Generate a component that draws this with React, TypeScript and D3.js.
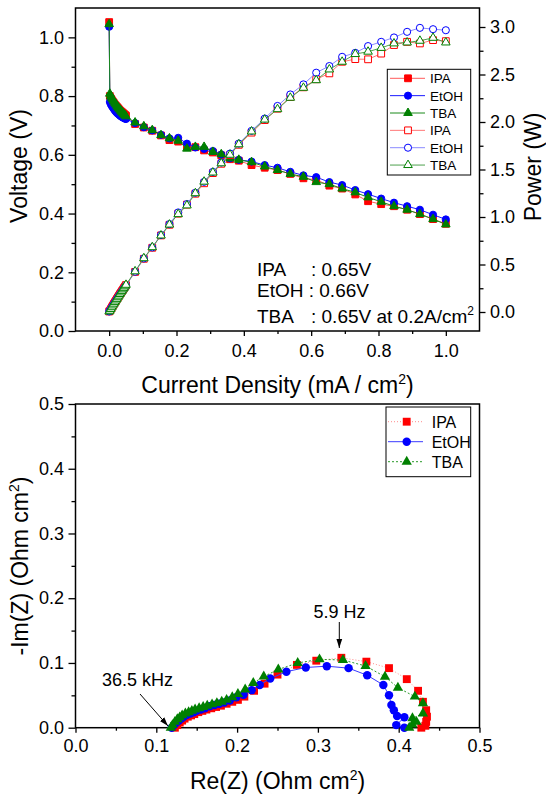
import React, { useEffect, useRef } from 'react';
import * as d3 from 'd3';

// ---- polarization / power data (top panel) ----
const current = [
  0, 0.002, 0.005, 0.008, 0.011, 0.014, 0.017, 0.02, 0.023, 0.026, 0.029, 0.032, 0.035, 0.038, 0.041, 0.044, 0.047, 0.05,
  0.077, 0.103, 0.128, 0.154, 0.179, 0.205, 0.231, 0.256, 0.282, 0.308, 0.333, 0.359, 0.385,
  0.423, 0.462, 0.5, 0.538, 0.577, 0.615, 0.654, 0.692, 0.731, 0.769, 0.808, 0.846, 0.885, 0.923, 0.962, 1.0,
];

const ipaVoltage = [
  1.052, 0.8, 0.792, 0.786, 0.781, 0.776, 0.771, 0.767, 0.763, 0.759, 0.755, 0.751, 0.748, 0.745, 0.742, 0.739, 0.736, 0.733,
  0.705, 0.693, 0.682, 0.666, 0.65, 0.645, 0.628, 0.626, 0.615, 0.608, 0.598, 0.585, 0.58,
  0.565, 0.556, 0.548, 0.535, 0.52, 0.515, 0.495, 0.485, 0.465, 0.442, 0.432, 0.425, 0.413, 0.398, 0.381, 0.365,
];
const etohVoltage = [
  1.036, 0.78, 0.772, 0.766, 0.761, 0.756, 0.751, 0.747, 0.743, 0.74, 0.737, 0.734, 0.731, 0.729, 0.727, 0.725, 0.723, 0.722,
  0.708, 0.694, 0.683, 0.668, 0.656, 0.658, 0.638, 0.625, 0.62, 0.613, 0.601, 0.588, 0.583,
  0.577, 0.565, 0.556, 0.542, 0.53, 0.524, 0.507, 0.497, 0.48, 0.466, 0.451, 0.437, 0.425, 0.413, 0.396, 0.38,
];
const tbaVoltage = [
  1.045, 0.808, 0.8, 0.794, 0.788, 0.782, 0.777, 0.772, 0.767, 0.762, 0.758, 0.754, 0.75, 0.746, 0.742, 0.738, 0.735, 0.731,
  0.71, 0.697, 0.684, 0.667, 0.656, 0.648, 0.621, 0.627, 0.627, 0.61, 0.602, 0.588, 0.583,
  0.575, 0.56, 0.548, 0.535, 0.525, 0.507, 0.5, 0.485, 0.472, 0.455, 0.44, 0.425, 0.413, 0.398, 0.381, 0.363,
];

const ipaPower = [
  0.005, 0.013, 0.031, 0.05, 0.068, 0.086, 0.103, 0.12, 0.137, 0.154, 0.171, 0.188, 0.204, 0.22, 0.236, 0.252, 0.268, 0.284,
  0.422, 0.56, 0.676, 0.806, 0.918, 1.035, 1.13, 1.245, 1.355, 1.462, 1.56, 1.652, 1.76,
  1.888, 2.02, 2.14, 2.262, 2.365, 2.45, 2.512, 2.634, 2.662, 2.66, 2.72, 2.81, 2.844, 2.827, 2.862, 2.851,
];
const etohPower = [
  0.005, 0.012, 0.03, 0.048, 0.066, 0.083, 0.1, 0.117, 0.134, 0.151, 0.167, 0.183, 0.199, 0.215, 0.231, 0.247, 0.262, 0.278,
  0.424, 0.564, 0.68, 0.81, 0.925, 1.048, 1.136, 1.255, 1.37, 1.475, 1.574, 1.668, 1.773,
  1.907, 2.036, 2.169, 2.29, 2.396, 2.519, 2.589, 2.686, 2.728, 2.799, 2.844, 2.89, 2.949, 2.991, 2.977, 2.966,
];
const tbaPower = [
  0.005, 0.013, 0.032, 0.05, 0.069, 0.087, 0.104, 0.121, 0.138, 0.155, 0.172, 0.189, 0.206, 0.222, 0.238, 0.254, 0.27, 0.286,
  0.428, 0.566, 0.682, 0.805, 0.92, 1.03, 1.122, 1.25, 1.372, 1.468, 1.565, 1.655, 1.765,
  1.9, 2.025, 2.135, 2.255, 2.36, 2.44, 2.553, 2.634, 2.715, 2.74, 2.78, 2.827, 2.837, 2.855, 2.886, 2.837,
];

// ---- impedance data (bottom panel) ----
const ipaRe = [0.123, 0.126, 0.129, 0.132, 0.135, 0.139, 0.143, 0.147, 0.152, 0.157, 0.162, 0.168, 0.174, 0.18, 0.187, 0.194, 0.201, 0.209, 0.221, 0.234, 0.25, 0.274, 0.298, 0.329, 0.36, 0.388, 0.41, 0.424, 0.43, 0.434, 0.435, 0.434, 0.433, 0.428];
const ipaIm = [0, 0.004, 0.008, 0.011, 0.014, 0.017, 0.019, 0.021, 0.024, 0.026, 0.028, 0.03, 0.032, 0.034, 0.037, 0.04, 0.043, 0.048, 0.057, 0.068, 0.082, 0.097, 0.1035, 0.108, 0.102, 0.092, 0.075, 0.057, 0.04, 0.027, 0.017, 0.009, 0.003, 0];
const etohRe = [0.119, 0.122, 0.125, 0.128, 0.131, 0.134, 0.138, 0.142, 0.146, 0.15, 0.155, 0.16, 0.166, 0.172, 0.178, 0.184, 0.191, 0.199, 0.208, 0.218, 0.228, 0.241, 0.261, 0.285, 0.311, 0.338, 0.361, 0.381, 0.388, 0.391, 0.394, 0.398, 0.407, 0.397, 0.407];
const etohIm = [0, 0.004, 0.008, 0.011, 0.014, 0.017, 0.02, 0.022, 0.024, 0.026, 0.028, 0.03, 0.033, 0.035, 0.037, 0.039, 0.042, 0.047, 0.051, 0.058, 0.066, 0.076, 0.0865, 0.093, 0.095, 0.092, 0.081, 0.066, 0.05, 0.035, 0.027, 0.018, 0.016, 0.004, 0];
const tbaRe = [0.118, 0.12, 0.123, 0.126, 0.129, 0.132, 0.136, 0.14, 0.144, 0.148, 0.153, 0.158, 0.163, 0.169, 0.175, 0.181, 0.187, 0.194, 0.201, 0.21, 0.22, 0.233, 0.251, 0.275, 0.302, 0.331, 0.359, 0.383, 0.399, 0.42, 0.43, 0.43, 0.417, 0.422, 0.417, 0.413];
const tbaIm = [0, 0.004, 0.009, 0.013, 0.016, 0.019, 0.022, 0.024, 0.026, 0.028, 0.03, 0.032, 0.034, 0.036, 0.038, 0.04, 0.043, 0.047, 0.052, 0.059, 0.069, 0.079, 0.09, 0.1, 0.1056, 0.1046, 0.0953, 0.0788, 0.0618, 0.048, 0.0377, 0.022, 0.0145, 0.009, 0.005, 0];

// ---- ticks ----
const voltTicks = [0, 0.2, 0.4, 0.6, 0.8, 1.0];
const voltMinor = [0.1, 0.3, 0.5, 0.7, 0.9];
const curTicks = [0, 0.2, 0.4, 0.6, 0.8, 1.0];
const curMinor = [0.1, 0.3, 0.5, 0.7, 0.9];
const powTicks = [0, 0.5, 1.0, 1.5, 2.0, 2.5, 3.0];
const powMinor = [0.25, 0.75, 1.25, 1.75, 2.25, 2.75];
const zTicks = [0, 0.1, 0.2, 0.3, 0.4, 0.5];
const zMinor = [0.05, 0.15, 0.25, 0.35, 0.45];

const font = '"Liberation Sans", Arial, sans-serif';

const App = () => {
  const svgRef = useRef<SVGSVGElement>(null);

  useEffect(() => {
    const svg = d3.select(svgRef.current);
    svg.selectAll('*').remove();

    svg.append('defs').append('marker')
      .attr('id', 'arrowHead').attr('viewBox', '0 0 10 10').attr('refX', 10).attr('refY', 5)
      .attr('markerWidth', 9).attr('markerHeight', 9).attr('markerUnits', 'userSpaceOnUse').attr('orient', 'auto')
      .append('path').attr('d', 'M0,1.8 L10,5 L0,8.2 Z').attr('fill', '#000');

    const fmt = d3.format('.1f');

    const styleAxis = (g: any) => {
      g.select('.domain').remove();
      g.selectAll('line').attr('stroke', '#000').attr('stroke-width', 1.3);
      g.selectAll('text').attr('font-size', 18).attr('font-family', font).attr('fill', '#000');
    };

    const addAxis = (gen: any, tx: number, ty: number) => {
      svg.append('g').attr('transform', `translate(${tx},${ty})`).call(gen).call(styleAxis);
    };

    const drawMarks = (pts: [number, number][], type: any, size: number, fill: string, stroke: string) => {
      const p = d3.symbol().type(type).size(size)();
      svg.append('g').selectAll('path').data(pts).join('path')
        .attr('d', p)
        .attr('transform', d => `translate(${d[0]},${d[1]})`)
        .attr('fill', fill).attr('stroke', stroke).attr('stroke-width', 1);
    };

    const drawLine = (pts: [number, number][], color: string, dash?: string) => {
      svg.append('path').datum(pts)
        .attr('d', d3.line())
        .attr('fill', 'none').attr('stroke', color).attr('stroke-width', 1)
        .attr('stroke-dasharray', dash || null);
    };

    // ================= top panel =================
    const x = d3.scaleLinear().domain([-0.1, 1.1]).range([75.5, 479.5]);
    const yV = d3.scaleLinear().domain([0, 1.1]).range([331, 8]);
    const yP = d3.scaleLinear().domain([-0.2, 3.2]).range([331, 8]);

    svg.append('rect').attr('x', 75.5).attr('y', 8).attr('width', 404).attr('height', 323)
      .attr('fill', 'none').attr('stroke', '#000').attr('stroke-width', 1.5);

    addAxis(d3.axisLeft(yV).tickValues(voltMinor).tickFormat(() => '').tickSize(4), 75.5, 0);
    addAxis(d3.axisLeft(yV).tickValues(voltTicks).tickFormat(fmt).tickSize(7).tickPadding(4.5), 75.5, 0);
    addAxis(d3.axisBottom(x).tickValues(curMinor).tickFormat(() => '').tickSize(3), 0, 331);
    addAxis(d3.axisBottom(x).tickValues(curTicks).tickFormat(fmt).tickSize(5).tickPadding(8), 0, 331);
    addAxis(d3.axisRight(yP).tickValues(powMinor).tickFormat(() => '').tickSize(4), 479.5, 0);
    addAxis(d3.axisRight(yP).tickValues(powTicks).tickFormat(fmt).tickSize(6).tickPadding(4.5), 479.5, 0);

    const topSeries = [
      { v: ipaVoltage, p: ipaPower, mark: '#ff0000', line: '#ff5a5a', openLine: '#ff7878', sym: d3.symbolSquare, size: 46 },
      { v: etohVoltage, p: etohPower, mark: '#0000ff', line: '#1a1aff', openLine: '#8a8aff', sym: d3.symbolCircle, size: 40 },
      { v: tbaVoltage, p: tbaPower, mark: '#008000', line: '#1a8a1a', openLine: '#4ea04e', sym: d3.symbolTriangle, size: 32 },
    ];

    topSeries.forEach(s => {
      const pts = current.map((c, i) => [x(c), yV(s.v[i])] as [number, number]);
      drawLine(pts, s.line);
      drawMarks(pts, s.sym, s.size, s.mark, s.mark);
    });
    topSeries.forEach(s => {
      const pts = current.map((c, i) => [x(c), yP(s.p[i])] as [number, number]);
      drawLine(pts, s.openLine);
      drawMarks(pts, s.sym, s.size, '#fff', s.mark);
    });

    // top legend
    const legTop = svg.append('g');
    legTop.append('rect').attr('x', 387.3).attr('y', 69.3).attr('width', 83.4).attr('height', 105.7)
      .attr('fill', '#fff').attr('stroke', '#000').attr('stroke-width', 1);
    const topNames = ['IPA', 'EtOH', 'TBA'];
    [0, 1].forEach(k => {
      topSeries.forEach((s, i) => {
        const row = k * 3 + i;
        const cy = 78.3 + row * 17.35;
        legTop.append('line').attr('x1', 390).attr('x2', 425).attr('y1', cy).attr('y2', cy)
          .attr('stroke', k === 0 ? s.line : s.openLine).attr('stroke-width', 1);
        legTop.append('path').attr('d', d3.symbol().type(s.sym).size(s.size)())
          .attr('transform', `translate(408,${cy})`)
          .attr('fill', k === 0 ? s.mark : '#fff').attr('stroke', s.mark);
        legTop.append('text').attr('x', 430).attr('y', cy + 5).attr('font-size', 13.5)
          .attr('font-family', font).text(topNames[i]);
      });
    });

    // top annotation
    const ann = svg.append('g').attr('font-family', font).attr('font-size', 19).attr('fill', '#000');
    ann.append('text').attr('x', 257).attr('y', 276).text('IPA');
    ann.append('text').attr('x', 311).attr('y', 276).text(': 0.65V');
    ann.append('text').attr('x', 257).attr('y', 297).text('EtOH : 0.66V');
    ann.append('text').attr('x', 257).attr('y', 323).text('TBA');
    const t3 = ann.append('text').attr('x', 311).attr('y', 323);
    t3.append('tspan').text(': 0.65V at 0.2A/cm');
    t3.append('tspan').attr('dy', -8).attr('font-size', 12).text('2');

    // top titles
    const titles = svg.append('g').attr('font-family', font).attr('font-size', 23).attr('fill', '#000');
    const ct = titles.append('text').attr('x', 277.5).attr('y', 393).attr('text-anchor', 'middle');
    ct.append('tspan').text('Current Density (mA / cm');
    ct.append('tspan').attr('dy', -9).attr('font-size', 14).text('2');
    ct.append('tspan').attr('dy', 9).text(')');
    titles.append('text').attr('transform', 'translate(27,166) rotate(-90)').attr('text-anchor', 'middle').text('Voltage (V)');
    titles.append('text').attr('transform', 'translate(541,167) rotate(-90)').attr('text-anchor', 'middle').text('Power (W)');

    // ================= bottom panel =================
    const xz = d3.scaleLinear().domain([0, 0.5]).range([75.5, 479.5]);
    const yz = d3.scaleLinear().domain([0, 0.5]).range([727.7, 404]);

    svg.append('rect').attr('x', 75.5).attr('y', 404).attr('width', 404).attr('height', 323.7)
      .attr('fill', 'none').attr('stroke', '#000').attr('stroke-width', 1.5);

    addAxis(d3.axisLeft(yz).tickValues(zMinor).tickFormat(() => '').tickSize(4), 75.5, 0);
    addAxis(d3.axisLeft(yz).tickValues(zTicks).tickFormat(fmt).tickSize(7).tickPadding(4.5), 75.5, 0);
    addAxis(d3.axisBottom(xz).tickValues(zMinor).tickFormat(() => '').tickSize(3), 0, 727.7);
    addAxis(d3.axisBottom(xz).tickValues(zTicks).tickFormat(fmt).tickSize(5).tickPadding(6.5), 0, 727.7);

    const botSeries = [
      { re: ipaRe, im: ipaIm, mark: '#ff0000', line: '#ff8c8c', dash: '1,2', sym: d3.symbolSquare, size: 62, name: 'IPA' },
      { re: etohRe, im: etohIm, mark: '#0000ff', line: '#3a3aff', dash: undefined, sym: d3.symbolCircle, size: 56, name: 'EtOH' },
      { re: tbaRe, im: tbaIm, mark: '#008000', line: '#2a9a2a', dash: '2,2', sym: d3.symbolTriangle, size: 46, name: 'TBA' },
    ];
    botSeries.forEach(s => {
      const pts = s.re.map((r, i) => [xz(r), yz(s.im[i])] as [number, number]);
      drawLine(pts, s.line, s.dash);
      drawMarks(pts, s.sym, s.size, s.mark, 'none');
    });

    // bottom legend
    const legBot = svg.append('g');
    legBot.append('rect').attr('x', 386).attr('y', 407).attr('width', 84.7).attr('height', 69.7)
      .attr('fill', '#fff').attr('stroke', '#000').attr('stroke-width', 1);
    botSeries.forEach((s, i) => {
      const cy = 421.7 + i * 20;
      legBot.append('line').attr('x1', 388).attr('x2', 423).attr('y1', cy).attr('y2', cy)
        .attr('stroke', s.line).attr('stroke-width', 1).attr('stroke-dasharray', s.dash || null);
      legBot.append('path').attr('d', d3.symbol().type(s.sym).size(s.size)())
        .attr('transform', `translate(406.7,${cy})`).attr('fill', s.mark);
      legBot.append('text').attr('x', 431.7).attr('y', cy + 6).attr('font-size', 16)
        .attr('font-family', font).text(s.name);
    });

    // frequency annotations
    const fz = svg.append('g').attr('font-family', font).attr('font-size', 18).attr('fill', '#000');
    fz.append('text').attr('x', 339.5).attr('y', 618).attr('text-anchor', 'middle').text('5.9 Hz');
    fz.append('text').attr('x', 137.5).attr('y', 686).attr('text-anchor', 'middle').text('36.5 kHz');
    svg.append('line').attr('x1', 339.3).attr('y1', 622).attr('x2', 339.3).attr('y2', 648)
      .attr('stroke', '#000').attr('stroke-width', 1).attr('marker-end', 'url(#arrowHead)');
    svg.append('line').attr('x1', 140).attr('y1', 694).attr('x2', 168).attr('y2', 726)
      .attr('stroke', '#000').attr('stroke-width', 1).attr('marker-end', 'url(#arrowHead)');

    const bt = svg.append('g').attr('font-family', font).attr('font-size', 23).attr('fill', '#000');
    const rt = bt.append('text').attr('x', 277.5).attr('y', 789).attr('text-anchor', 'middle');
    rt.append('tspan').text('Re(Z) (Ohm cm');
    rt.append('tspan').attr('dy', -9).attr('font-size', 14).text('2');
    rt.append('tspan').attr('dy', 9).text(')');
    const it = bt.append('text').attr('transform', 'translate(28,566) rotate(-90)').attr('text-anchor', 'middle');
    it.append('tspan').text('-Im(Z) (Ohm cm');
    it.append('tspan').attr('dy', -9).attr('font-size', 14).text('2');
    it.append('tspan').attr('dy', 9).text(')');
  }, []);

  return (
    <svg ref={svgRef} width={546} height={794}
      style={{ position: 'absolute', left: 0, top: 0, background: '#fff' }} />
  );
};

export default App;
